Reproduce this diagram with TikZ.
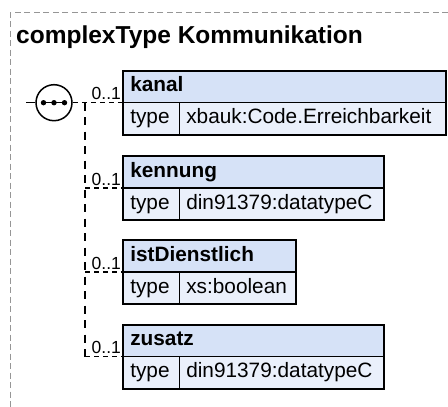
\documentclass[tikz,border=0pt]{standalone}
\usepackage{fontspec}
\setmainfont{Liberation Sans}
\definecolor{hdrfill}{RGB}{214,226,247}
\definecolor{rowfill}{RGB}{234,240,251}
\definecolor{framegrey}{RGB}{150,150,150}
\tikzset{
  boxfont/.style={font=\fontsize{20.8}{24}\selectfont},
  cell/.style={boxfont, text height=15pt, text depth=4.5pt, draw=black, line width=1.4pt,
    anchor=north west, inner xsep=7pt, inner ysep=0pt, outer sep=0pt,
    minimum height=32pt, align=left},
  hdr/.style={cell, fill=hdrfill, font=\fontsize{20.8}{24}\selectfont\bfseries},
  row/.style={cell, fill=rowfill},
  outline/.style={draw=black, line width=2pt},
  trunk/.style={draw=black, line width=1.4pt, dash pattern=on 8pt off 6.5pt},
  branch/.style={draw=black, line width=1.4pt, dash pattern=on 5pt off 4pt},
  stub/.style={draw=black, line width=1.4pt, dash pattern=on 10pt off 4pt},
  occ/.style={font=\fontsize{17.5}{20}\selectfont, anchor=base west, inner sep=0pt},
  seqnode/.style={circle, draw=black, line width=1.5pt, fill=white, minimum size=36pt, inner sep=0pt},
  typeframe/.style={draw=framegrey, line width=1pt, dash pattern=on 6pt off 3.5pt},
}
% element box: #1 name, #2 left, #3 top, #4 type column, #5 right, #6 element, #7 type
\newcommand\elembox[7]{%
  \pgfmathsetmacro\hdrw{#5-#2-14}%
  \pgfmathsetmacro\valw{#5-#4-14}%
  \node[hdr, text width=\hdrw pt] (#1) at (#2,#3) {#6};
  \node[row, text width=42pt] (#1-t) at (#2,#3+32) {type};
  \node[row, text width=\valw pt] (#1-v) at (#4,#3+32) {#7};
  \draw[outline] (#1.north west) rectangle (#1-v.south east);
}
\begin{document}
\begin{tikzpicture}[x=1pt, y=-1pt]
  \useasboundingbox (0,0) rectangle (448,407);
  % dashed frame of the complex type, open to the right and bottom
  \coordinate (frametr) at (448,12.7);
  \coordinate (frametl) at (10,12.7);
  \coordinate (framebl) at (10,407);
  \draw[typeframe] (frametr) -- (frametl) -- (framebl);
  \node[font=\fontsize{24.5}{28}\selectfont\bfseries, anchor=base west, inner sep=0pt]
    (title) at (16,43.3) {complexType Kommunikation};

  % element boxes
  \elembox{kanal}{123.3}{70.7}{179.3}{446}{kanal}{xbauk:Code.Erreichbarkeit}
  \elembox{kennung}{123.3}{156}{179.3}{384.3}{kennung}{din91379:datatypeC}
  \elembox{dienst}{123.3}{240}{179.3}{296}{istDienstlich}{xs:boolean}
  \elembox{zusatz}{123.3}{324.5}{179.3}{384.3}{zusatz}{din91379:datatypeC}

  % sequence compositor
  \node[seqnode] (seq) at (54,102.7) {};
  \draw[line width=1.5pt] ([xshift=-13pt]seq.center) -- ([xshift=13pt]seq.center);
  \foreach \dx in {-10.5,0,10.5}
    \fill ([xshift=\dx pt]seq.center) circle (2.7pt);
  \coordinate (seqin) at (26,102.7);
  \coordinate (fork) at (85,102.7);
  \draw[stub] (seqin) -- (seq.west);

  % connectors to the elements
  \draw[branch] (seq.east) -- (kanal.south west);
  \draw[trunk] (fork) -- (fork |- zusatz.south west);
  \draw[branch] (fork |- kennung.south west) -- (kennung.south west);
  \draw[branch] (fork |- dienst.south west) -- (dienst.south west);
  \draw[branch] (fork |- zusatz.south west) -- (zusatz.south west);

  % occurrence labels
  \node[occ] (o1) at (91.5,99.7) {0..1};
  \node[occ] (o2) at (91.5,185) {0..1};
  \node[occ] (o3) at (91.5,269) {0..1};
  \node[occ] (o4) at (91.5,353.5) {0..1};
\end{tikzpicture}
\end{document}
